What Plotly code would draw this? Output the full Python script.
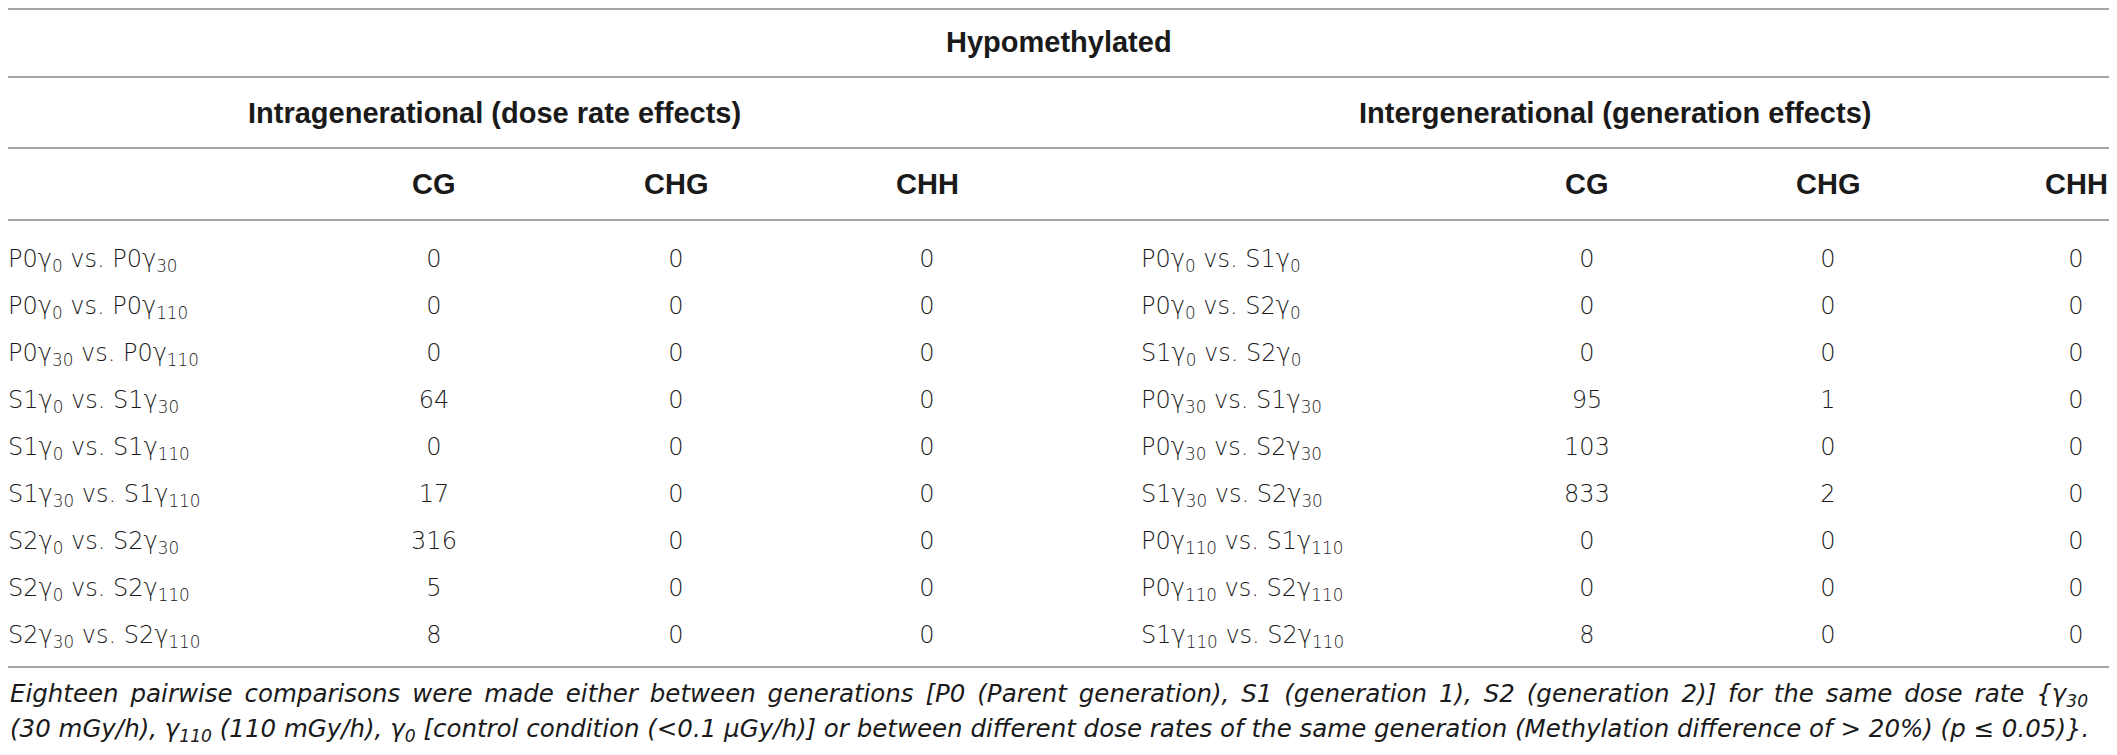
import plotly.graph_objects as go

# row labels (gamma subscripts = dose rate in mGy/h)
intra_labels = [
    "P0γ<sub>0</sub> vs. P0γ<sub>30</sub>",
    "P0γ<sub>0</sub> vs. P0γ<sub>110</sub>",
    "P0γ<sub>30</sub> vs. P0γ<sub>110</sub>",
    "S1γ<sub>0</sub> vs. S1γ<sub>30</sub>",
    "S1γ<sub>0</sub> vs. S1γ<sub>110</sub>",
    "S1γ<sub>30</sub> vs. S1γ<sub>110</sub>",
    "S2γ<sub>0</sub> vs. S2γ<sub>30</sub>",
    "S2γ<sub>0</sub> vs. S2γ<sub>110</sub>",
    "S2γ<sub>30</sub> vs. S2γ<sub>110</sub>",
]
inter_labels = [
    "P0γ<sub>0</sub> vs. S1γ<sub>0</sub>",
    "P0γ<sub>0</sub> vs. S2γ<sub>0</sub>",
    "S1γ<sub>0</sub> vs. S2γ<sub>0</sub>",
    "P0γ<sub>30</sub> vs. S1γ<sub>30</sub>",
    "P0γ<sub>30</sub> vs. S2γ<sub>30</sub>",
    "S1γ<sub>30</sub> vs. S2γ<sub>30</sub>",
    "P0γ<sub>110</sub> vs. S1γ<sub>110</sub>",
    "P0γ<sub>110</sub> vs. S2γ<sub>110</sub>",
    "S1γ<sub>110</sub> vs. S2γ<sub>110</sub>",
]
contexts = ["CG", "CHG", "CHH"]

intra_cg = [0, 0, 0, 64, 0, 17, 316, 5, 8]
intra_chg = [0, 0, 0, 0, 0, 0, 0, 0, 0]
intra_chh = [0, 0, 0, 0, 0, 0, 0, 0, 0]

inter_cg = [0, 0, 0, 95, 103, 833, 0, 0, 8]
inter_chg = [0, 0, 0, 1, 0, 2, 0, 0, 0]
inter_chh = [0, 0, 0, 0, 0, 0, 0, 0, 0]

caption_1 = ("Eighteen pairwise comparisons were made either between generations "
             "[P0 (Parent generation), S1 (generation 1), S2 (generation 2)] for the same dose rate "
             "{γ<sub>30</sub>")
caption_2 = ("(30 mGy/h), γ<sub>110</sub> (110 mGy/h), γ<sub>0</sub> [control condition (&lt;0.1 μGy/h)] "
             "or between different dose rates of the same generation "
             "(Methylation difference of &gt; 20%) (p ≤ 0.05)}.")

# page is 2117x755 but the html body has an 8px margin, so the figure is
# made 16px smaller and its axes are kept in page pixels
W, H = 2117, 755
PAD = 8
ROW0, ROW_H = 261, 47
LINE_Y = [9, 77, 148, 220, 667]
LEFT_COLS = [434, 676, 927]
RIGHT_COLS = [1587, 1828, 2076]

BODY = "DejaVu Sans, Liberation Sans, Arial, sans-serif"
HEAD = "Liberation Sans, Arial, sans-serif"
TXT = "#1a1a1a"

rows = [ROW0 + ROW_H * i for i in range(len(intra_labels))]

fig = go.Figure()


def text_col(x, vals, pos="middle center"):
    fig.add_trace(go.Scatter(
        x=[x] * len(vals), y=rows, mode="text", text=[str(v) for v in vals],
        textposition=pos, hoverinfo="skip", showlegend=False, cliponaxis=False,
        textfont=dict(family=BODY, size=24, color=TXT, weight=300),
    ))


text_col(PAD, intra_labels, "middle right")
text_col(1141, inter_labels, "middle right")
for x, vals in zip(LEFT_COLS, [intra_cg, intra_chg, intra_chh]):
    text_col(x, vals)
for x, vals in zip(RIGHT_COLS, [inter_cg, inter_chg, inter_chh]):
    text_col(x, vals)

# horizontal rules
for y in LINE_Y:
    fig.add_shape(type="line", xref="x", yref="y", x0=PAD, x1=W - PAD, y0=y, y1=y,
                  line=dict(color="#a6a6a6", width=2))

head_font = dict(family=HEAD, size=29, color=TXT, weight="bold")
ann = [
    dict(x=W / 2, y=42, text="Hypomethylated"),
    dict(x=494, y=113, text="Intragenerational (dose rate effects)"),
    dict(x=1615, y=113, text="Intergenerational (generation effects)"),
]
for c, x in zip(contexts + contexts, LEFT_COLS + RIGHT_COLS):
    ann.append(dict(x=x, y=184, text=c))
for a in ann:
    fig.add_annotation(xref="x", yref="y", showarrow=False, font=head_font,
                       xanchor="center", yanchor="middle", **a)

# the first caption line is justified in the source: widen its word gaps
cap_font = dict(family=BODY, size=24.5, color=TXT, weight=300, style="italic")
for y, t, gap in [(695, caption_1, " \u2006"), (730, caption_2, " ")]:
    fig.add_annotation(x=PAD, y=y, xref="x", yref="y", text=t.replace(" ", gap),
                       showarrow=False, xanchor="left", yanchor="middle", font=cap_font)

fig.update_xaxes(range=[PAD, W - PAD], visible=False, fixedrange=True)
fig.update_yaxes(range=[H - PAD, PAD], visible=False, fixedrange=True)
fig.update_layout(
    width=W - 2 * PAD, height=H - 2 * PAD,
    margin=dict(l=0, r=0, t=0, b=0),
    paper_bgcolor="white", plot_bgcolor="white",
)

fig.write_html("out.html")
